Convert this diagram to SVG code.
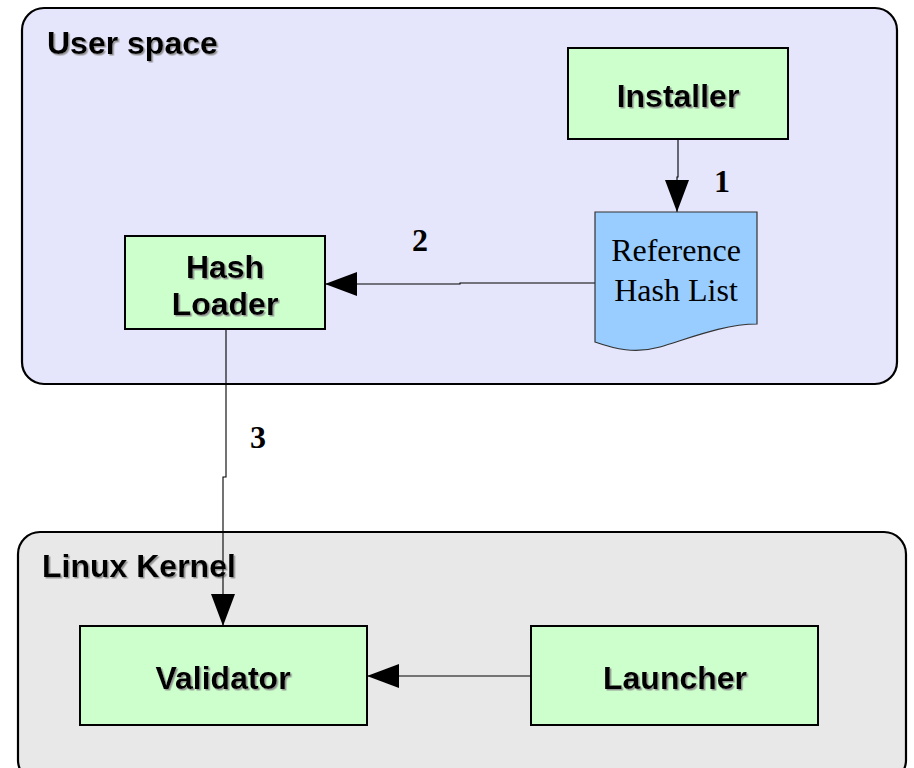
<svg xmlns="http://www.w3.org/2000/svg" width="914" height="768" viewBox="0 0 914 768">
  <defs>
    <filter id="shadow" x="-10%" y="-20%" width="130%" height="150%">
      <feDropShadow dx="1.5" dy="1.5" stdDeviation="0.4" flood-color="#8a8a8a" flood-opacity="0.9"/>
    </filter>
    <marker id="arrow" viewBox="0 0 32 24" refX="32" refY="12" markerWidth="32" markerHeight="24" markerUnits="userSpaceOnUse" orient="auto">
      <path d="M0,0 L32,12 L0,24 Z" fill="#000"/>
    </marker>
  </defs>
  <style>
    .zone { stroke: #000; stroke-width: 2.2; }
    .box { fill: #ccffcc; stroke: #000; stroke-width: 2; }
    .doc { fill: #99ccff; stroke: #333; stroke-width: 1.2; }
    .title { font-family: "Liberation Sans", Arial, sans-serif; font-weight: bold; font-size: 32px; fill: #000; filter: url(#shadow); }
    .label { font-family: "Liberation Sans", Arial, sans-serif; font-weight: bold; font-size: 32px; fill: #000; text-anchor: middle; filter: url(#shadow); }
    .doctext { font-family: "Liberation Serif", "Times New Roman", serif; font-size: 32px; fill: #000; text-anchor: middle; }
    .step { font-family: "Liberation Serif", "Times New Roman", serif; font-weight: bold; font-size: 32px; fill: #000; text-anchor: middle; }
    .link { fill: none; stroke: #000; stroke-width: 1.1; marker-end: url(#arrow); }
  </style>

  <!-- zones -->
  <g id="user-space">
    <rect class="zone" x="22" y="8" width="875" height="376" rx="22" fill="#e5e5fb"/>
    <text class="title" x="47" y="54">User space</text>
  </g>
  <g id="linux-kernel">
    <rect class="zone" x="18" y="532" width="888" height="250" rx="22" fill="#e8e8e8"/>
    <text class="title" x="42" y="577">Linux Kernel</text>
  </g>

  <!-- connectors -->
  <g id="connectors">
    <path class="link" d="M678,139 V177 H677 V212"/>
    <path class="link" d="M595,283 H460 V284 H325"/>
    <path class="link" d="M226,329 V477 H223 V626"/>
    <path class="link" d="M531,676 H367"/>
    <text class="step" x="722" y="192">1</text>
    <text class="step" x="420" y="251">2</text>
    <text class="step" x="258" y="448">3</text>
  </g>

  <!-- nodes -->
  <g id="installer">
    <rect class="box" x="568" y="48" width="220" height="91"/>
    <text class="label" x="678" y="107">Installer</text>
  </g>
  <g id="reference-hash-list">
    <path class="doc" d="M595,212 H757 V324 C725,324 690,338 660,347 C635,354 615,349 595,342 Z"/>
    <text class="doctext" x="676" y="261">Reference</text>
    <text class="doctext" x="676" y="301">Hash List</text>
  </g>
  <g id="hash-loader">
    <rect class="box" x="125" y="236" width="200" height="93"/>
    <text class="label" x="225" y="278">Hash</text>
    <text class="label" x="225" y="315">Loader</text>
  </g>
  <g id="validator">
    <rect class="box" x="80" y="626" width="287" height="99"/>
    <text class="label" x="223" y="689">Validator</text>
  </g>
  <g id="launcher">
    <rect class="box" x="531" y="626" width="287" height="99"/>
    <text class="label" x="675" y="689">Launcher</text>
  </g>
</svg>
